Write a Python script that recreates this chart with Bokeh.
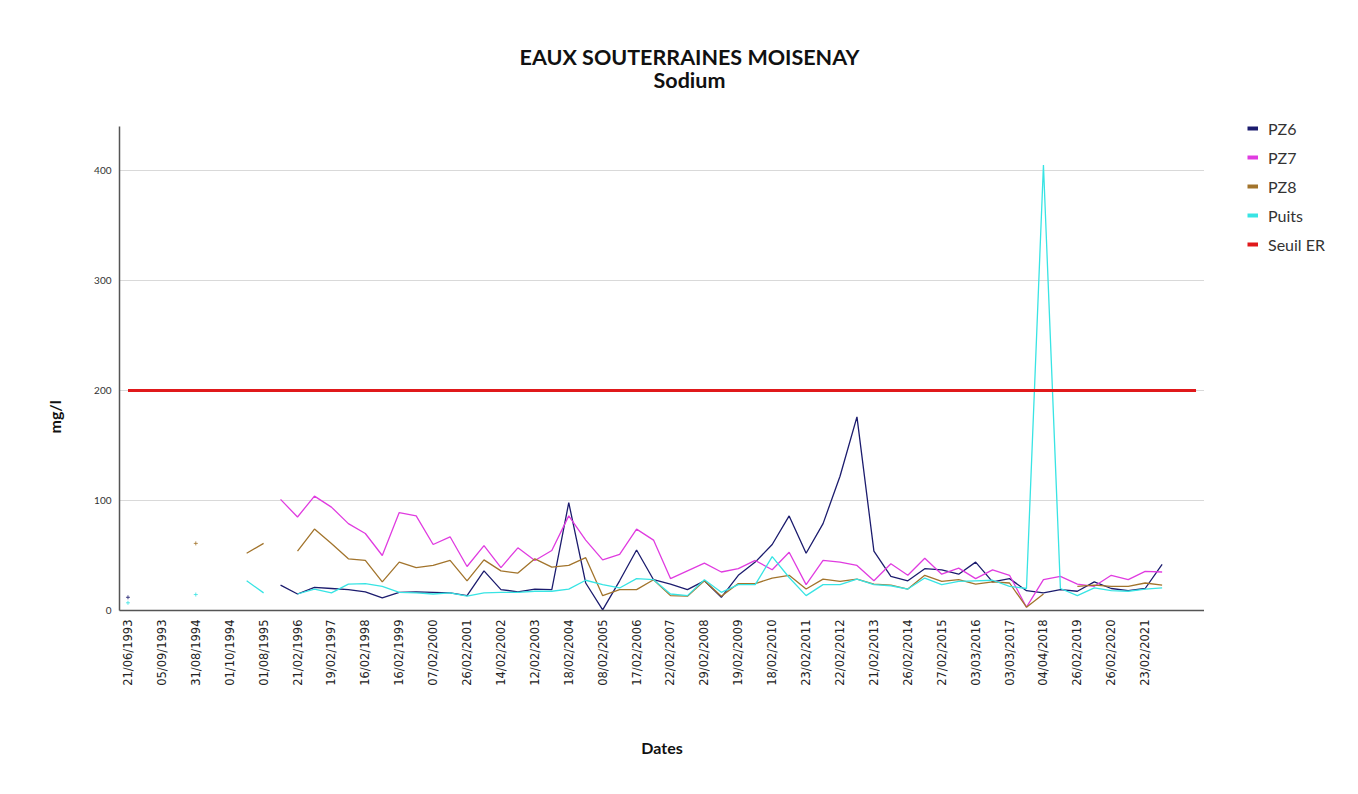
import math
import numpy as np
from bokeh.plotting import figure
from bokeh.layouts import row, column
from bokeh.models import (Range1d, FixedTicker, Legend, LegendItem, Title, Label)
from bokeh.embed import file_html
from bokeh.resources import INLINE

nan = float("nan")

# ---- data -------------------------------------------------------------
N_CAT = 64  # number of sampling dates on the category axis
tick_labels = ["21/06/1993", "05/09/1993", "31/08/1994", "01/10/1994", "01/08/1995",
               "21/02/1996", "19/02/1997", "16/02/1998", "16/02/1999", "07/02/2000",
               "26/02/2001", "14/02/2002", "12/02/2003", "18/02/2004", "08/02/2005",
               "17/02/2006", "22/02/2007", "29/02/2008", "19/02/2009", "18/02/2010",
               "23/02/2011", "22/02/2012", "21/02/2013", "26/02/2014", "27/02/2015",
               "03/03/2016", "03/03/2017", "04/04/2018", "26/02/2019", "26/02/2020",
               "23/02/2021"]

pz6 = [12, nan, nan, nan, nan, nan, nan, nan, nan, 23, 15, 21, 20, 19, 17, 11.5,
       16.5, 17, 16.5, 16, 13.5, 36, 19, 17, 19.5, 19, 98, 25, 0.5, 27, 55, 28,
       24, 19, 27, 12, 32, 44, 60, 86, 52, 79, 122, 176, 54, 31, 27, 38, 37, 33,
       44, 26, 29, 18, 16, 19, 17.5, 26, 20, 18, 20, 42]
pz7 = [nan, nan, nan, nan, nan, nan, nan, nan, nan, 101, 85, 104, 94, 79, 70, 50,
       89, 86, 60, 67, 40, 59, 39, 57, 45.5, 54.5, 86, 64, 46, 51, 74, 64,
       29, 36, 43, 35, 38, 45.5, 37, 53, 23.5, 45.5, 44, 41, 27, 42.5, 32, 47.5,
       33, 38.5, 29, 37, 32, 3, 28, 31, 24, 22, 32, 28, 35.5, 35]
pz8 = [nan, nan, nan, nan, 61, nan, nan, 52, 61, nan, 54, 74, 61, 47, 45.5, 26,
       44, 39, 41, 45.5, 27, 46, 36, 34, 47, 39.5, 41, 48, 13.5, 19, 19, 28,
       13.5, 13, 27, 13, 24.5, 24.5, 29.5, 32, 19.5, 28.5, 26.5, 28.5, 24, 23,
       19.5, 32, 26.5, 28, 24, 26, 25, 3, 15, nan, 22, 23, 22, 22, 25, 23]
puits = [7, nan, nan, nan, 14.5, nan, nan, 27, 16, nan, 15, 19.5, 16, 24, 24.5, 22,
         16.5, 16, 15, 16, 13, 16, 16.5, 16.5, 17.5, 17.5, 19.5, 27.5, 23.5, 20.5, 29, 28,
         15, 13.5, 28, 16.5, 23.5, 23.5, 49, 30, 13.5, 23.5, 23.5, 28.5, 23.5, 22.5,
         19.5, 29.5, 23.5, 26.5, 27, 27.5, 22, 20, 405, 20, 13.5, 20.5, 18, 17.5, 19.5, 20.5]
seuil_er = [200] * N_CAT

series = [("PZ6", pz6, "#1c1c6e"),
          ("PZ7", pz7, "#e03ce0"),
          ("PZ8", pz8, "#a2742c"),
          ("Puits", puits, "#38e4e4")]
seuil_color = "#e0191b"

FONT = "Lato"

# ---- page geometry (pixels) -------------------------------------------
W, H = 1356, 792
TOP_H = 100                       # height of the title strip
FL, FR, FT, FB = 119, 1204, 126, 610   # plot frame edges on the page
LEG_W = W - FR
BODY_H = H - TOP_H

# ---- title strip --------------------------------------------------------
tf = figure(width=W, height=TOP_H, output_backend="svg", toolbar_location=None,
            x_axis_type=None, y_axis_type=None, x_range=Range1d(0, 1), y_range=Range1d(0, 1),
            min_border=0, outline_line_color=None, background_fill_color="white",
            border_fill_color="white")
tf.grid.visible = False
for txt, ypage in [("EAUX SOUTERRAINES MOISENAY", 56), ("Sodium", 79)]:
    tf.add_layout(Label(x=689, y=TOP_H - ypage, x_units="screen", y_units="screen",
                        text=txt, text_font=FONT, text_font_size="21.5px",
                        text_font_style="bold", text_color="#111111",
                        text_align="center", text_baseline="middle"))

# ---- main figure ------------------------------------------------------
p = figure(width=FR, height=BODY_H, output_backend="svg", toolbar_location=None,
           x_range=Range1d(-0.5, N_CAT - 0.5), y_range=Range1d(0, 440),
           min_border_left=FL, min_border_right=0, min_border_top=FT - TOP_H,
           min_border_bottom=H - FB, background_fill_color="white",
           border_fill_color="white", outline_line_color=None)

p.yaxis.ticker = FixedTicker(ticks=[0, 100, 200, 300, 400])
p.yaxis.axis_line_color = "#555555"
p.yaxis.axis_line_width = 1.5
p.yaxis.major_tick_line_color = None
p.yaxis.major_tick_out = 0
p.yaxis.minor_tick_line_color = None
p.yaxis.major_label_text_font = FONT
p.yaxis.major_label_text_font_size = "10px"
p.yaxis.major_label_text_color = "#333333"
p.yaxis.major_label_standoff = 8

even_idx = list(range(0, 2 * len(tick_labels), 2))
p.xaxis.ticker = FixedTicker(ticks=even_idx)
p.xaxis.major_label_overrides = {i: lab for i, lab in zip(even_idx, tick_labels)}
p.xaxis.major_label_orientation = math.pi / 2
p.xaxis.major_label_text_font = "DejaVu Sans"
p.xaxis.major_label_text_font_size = "11.5px"
p.xaxis.major_label_text_color = "#222222"
p.xaxis.major_tick_out = 0
p.xaxis.major_label_standoff = 9
p.xaxis.axis_line_color = "#555555"
p.xaxis.axis_line_width = 1.5
p.xaxis.major_tick_line_color = None
p.xaxis.minor_tick_line_color = None
p.xaxis.axis_label = "Dates"
p.xaxis.axis_label_text_font = FONT
p.xaxis.axis_label_text_font_size = "16px"
p.xaxis.axis_label_text_font_style = "bold"
p.xaxis.axis_label_text_color = "#111111"
p.xaxis.axis_label_standoff = 49

p.add_layout(Title(text="mg/l", align="left", offset=177, text_font=FONT,
                   text_font_size="16px", text_font_style="bold", text_color="#111111",
                   standoff=55), "left")

p.xgrid.grid_line_color = None
p.ygrid.grid_line_color = "#d9d9d9"
p.ygrid.grid_line_width = 1.2

x = np.arange(N_CAT)

for name, vals, col in series:
    arr = np.array(vals, dtype=float)
    xs = x[:len(arr)]
    p.line(xs, arr, line_color=col, line_width=1.3)
    # isolated points (no neighbour) drawn as small marks
    fin = np.isfinite(arr)
    left = np.concatenate([[False], fin[:-1]])
    right = np.concatenate([fin[1:], [False]])
    iso = fin & ~left & ~right
    if iso.any():
        p.scatter(xs[iso], arr[iso], marker="cross", size=4, line_color=col,
                  line_width=1, line_alpha=0.8)

p.line(x, np.array(seuil_er, dtype=float), line_color=seuil_color, line_width=3)

# ---- legend panel (narrow figure to the right of the plot) -------------
pl = figure(width=LEG_W, height=BODY_H, output_backend="svg", toolbar_location=None,
            x_axis_type=None, y_axis_type=None, x_range=Range1d(0, 1), y_range=Range1d(0, 1),
            min_border_left=1247 - FR, min_border_top=118 - TOP_H, min_border_right=0,
            min_border_bottom=0, outline_line_color=None, background_fill_color="white",
            border_fill_color="white")
pl.grid.visible = False

legend_items = []
for name, vals, col in series + [("Seuil ER", seuil_er, seuil_color)]:
    r = pl.line(x=[0], y=[nan], line_color=col, line_width=4)
    legend_items.append(LegendItem(label=name, renderers=[r]))

legend = Legend(items=legend_items, location="top_left", glyph_width=11,
                glyph_height=20, label_height=20, spacing=9, padding=0,
                margin=0, label_standoff=10, label_text_font=FONT,
                label_text_font_size="16px", label_text_color="#333333",
                border_line_color=None, background_fill_alpha=0)
pl.add_layout(legend, "center")

layout = column(tf, row(p, column(pl)))
open("out.html", "w").write(file_html(layout, INLINE))
